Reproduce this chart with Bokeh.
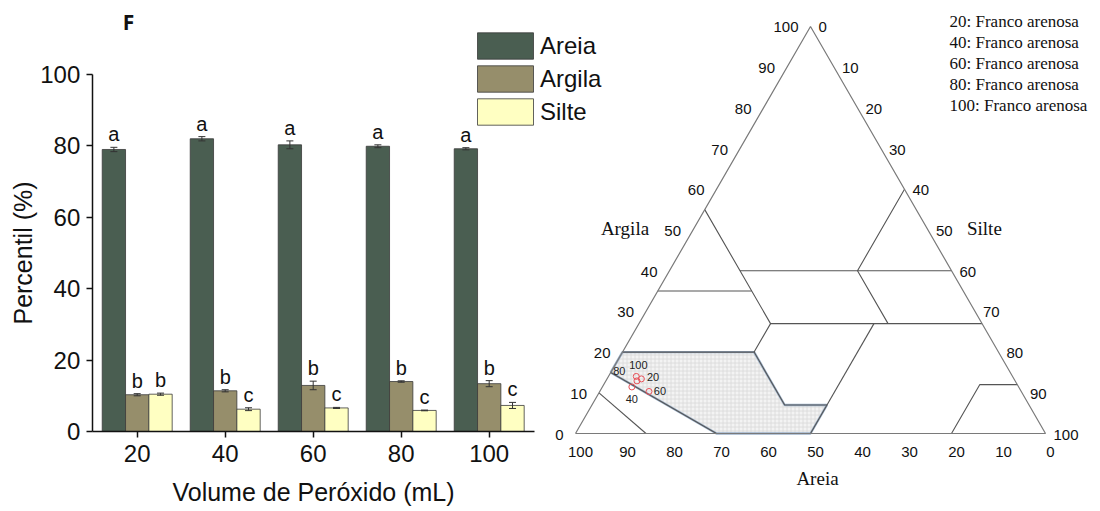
import numpy as np
from bokeh.plotting import figure
from bokeh.models import (ColumnDataSource, Whisker, TeeHead, Legend, LegendItem,
                          FixedTicker, Range1d, Label, LinearAxis)
from bokeh.core.properties import value
from bokeh.embed import file_html
from bokeh.resources import INLINE

# ---------------- data: bar chart ----------------
volumes = ["20", "40", "60", "80", "100"]
areia = [79.0, 82.0, 80.3, 79.9, 79.2]
areia_err = [0.6, 0.6, 1.1, 0.4, 0.3]
argila = [10.3, 11.4, 12.9, 14.0, 13.4]
argila_err = [0.3, 0.3, 1.2, 0.2, 0.85]
silte = [10.45, 6.25, 6.6, 5.9, 7.3]
silte_err = [0.3, 0.4, 0.15, 0.1, 0.85]
areia_letters = ["a", "a", "a", "a", "a"]
argila_letters = ["b", "b", "b", "b", "b"]
silte_letters = ["b", "c", "c", "c", "c"]
series_names = ["Areia", "Argila", "Silte"]
series_colors = ["#4a5e51", "#968e6b", "#ffffc2"]
y_ticks = [0, 20, 40, 60, 80, 100]
panel_letter = "F"
x_title = "Volume de Peróxido (mL)"
y_title = "Percentil (%)"

# ---------------- data: ternary (USDA texture triangle) ----------------
tern_ticks = [0, 10, 20, 30, 40, 50, 60, 70, 80, 90, 100]
# polylines as (areia, argila) percentages
triangle_outline = [(100, 0), (0, 100), (0, 0), (100, 0)]
usda_lines = [
    [(90, 10), (85, 0)],
    [(85, 15), (70, 0)],
    [(80, 20), (52, 20), (52, 7), (43, 7)],
    [(23, 27), (50, 0)],
    [(65, 35), (45, 35)],
    [(45, 55), (45, 27), (52, 20)],
    [(45, 27), (0, 27)],
    [(45, 40), (0, 40)],
    [(0, 60), (20, 40), (20, 27)],
    [(0, 12), (8, 12), (20, 0)],
]
franco_arenosa = [(80, 20), (52, 20), (52, 7), (43, 7), (50, 0), (70, 0), (85, 15)]
class_notes = ["20: Franco arenosa", "40: Franco arenosa", "60: Franco arenosa",
               "80: Franco arenosa", "100: Franco arenosa"]
axis_names = ["Argila", "Silte", "Areia"]

SANS = value("Liberation Sans")
SERIF = value("Liberation Serif")
INK = "#111111"

# one canvas; bar chart on the default ranges, ternary on extra ranges
p = figure(width=1096, height=509,
           x_range=Range1d(-1.5534, 10.9011), y_range=Range1d(-21.849, 120.728),
           x_axis_location=None, y_axis_location=None, min_border=0,
           output_backend="svg", toolbar_location=None)
p.extra_x_ranges = {"tx": Range1d(-122.340, 110.851)}
p.extra_y_ranges = {"ty": Range1d(-16.170, 92.128)}
p.grid.visible = False
p.outline_line_color = None

# =============== bar chart ===============
xs = np.arange(len(volumes), dtype=float)
bw = 0.265
series = [(areia, areia_err, areia_letters), (argila, argila_err, argila_letters),
          (silte, silte_err, silte_letters)]
renderers = []
for k, (vals, errs, letters) in enumerate(series):
    xk = xs + (k - 1) * bw
    v = np.array(vals)
    e = np.array(errs)
    src = ColumnDataSource(dict(x=xk, top=v, up=v + e, lo=v - e, letters=letters))
    r = p.vbar(x="x", top="top", width=bw, bottom=0, source=src,
               fill_color=series_colors[k], line_color="#3a3a3a", line_width=0.8)
    renderers.append(r)
    wh = Whisker(base="x", upper="up", lower="lo", source=src, level="overlay",
                 line_color="#333333", line_width=1,
                 upper_head=TeeHead(size=7, line_color="#333333", line_width=1),
                 lower_head=TeeHead(size=7, line_color="#333333", line_width=1))
    p.add_layout(wh)
    p.text(x="x", y="up", text="letters", source=src, text_align="center",
           text_baseline="middle", y_offset=-13, text_font=SANS,
           text_font_size="20px", text_color=INK)

yax = LinearAxis(fixed_location=-0.51, bounds=(0, 100), ticker=FixedTicker(ticks=y_ticks),
                 axis_label=y_title)
xax = LinearAxis(fixed_location=0, bounds=(-0.51, 4.51), ticker=FixedTicker(ticks=list(xs)),
                 axis_label=x_title)
xax.major_label_overrides = {float(i): v for i, v in enumerate(volumes)}
for ax in (xax, yax):
    ax.axis_line_width = 1.5
    ax.axis_line_color = INK
    ax.major_tick_line_width = 1.5
    ax.major_tick_line_color = INK
    ax.major_tick_out = 6
    ax.major_tick_in = 0
    ax.minor_tick_out = 0
    ax.minor_tick_in = 0
    ax.major_label_text_font = "Liberation Sans"
    ax.major_label_text_font_size = "24px"
    ax.major_label_text_color = INK
    ax.axis_label_text_font = "Liberation Sans"
    ax.axis_label_text_font_size = "25px"
    ax.axis_label_text_font_style = "normal"
    ax.axis_label_text_color = INK
xax.major_label_standoff = 8
xax.axis_label_standoff = 12
yax.major_label_standoff = 6
yax.axis_label_standoff = 0
p.add_layout(yax, "left")
p.add_layout(xax, "below")

legend = Legend(items=[LegendItem(label=series_names[k], renderers=[renderers[k]]) for k in range(3)],
                location=(470, 381), glyph_width=70, glyph_height=33, spacing=0,
                padding=0, margin=0, label_standoff=0, label_height=28,
                label_text_font="Liberation Sans", label_text_font_size="24px",
                label_text_color=INK, border_line_color=None, background_fill_alpha=0)
p.add_layout(legend)

p.add_layout(Label(x=-0.099, y=114.57, text=panel_letter, text_font="Noto Sans",
                   text_font_style="bold", text_font_size="21px", text_align="center",
                   text_baseline="middle", text_color=INK))

# =============== ternary diagram ===============
S3 = np.sqrt(3) / 2
T = dict(x_range_name="tx", y_range_name="ty")


def tern(sand, clay):
    sand = np.asarray(sand, dtype=float)
    clay = np.asarray(clay, dtype=float)
    silt = 100.0 - sand - clay
    return silt + clay / 2.0, clay * S3


# shaded sandy-loam region
fa = np.array(franco_arenosa)
fx, fy = tern(fa[:, 0], fa[:, 1])
p.patch(list(fx), list(fy), fill_color="#f3f3f3", hatch_pattern="cross",
        hatch_color="#d8d8d8", hatch_scale=4, hatch_weight=0.8,
        line_color="#9db3cc", line_width=2.4, **T)

# class boundaries
mx, my = [], []
for ln in usda_lines:
    a = np.array(ln)
    lx, ly = tern(a[:, 0], a[:, 1])
    mx.append(list(lx))
    my.append(list(ly))
p.multi_line(mx, my, line_color="#555555", line_width=1.1, **T)

to = np.array(triangle_outline)
tx, ty = tern(to[:, 0], to[:, 1])
p.line(list(tx), list(ty), line_color="#7a7a7a", line_width=1.2, **T)

# tick labels
tk = np.array(tern_ticks, dtype=float)
labels = [str(t) for t in tern_ticks]
lx, ly = tern(100 - tk, tk)
p.text(lx, ly, text=labels, text_align="right", text_baseline="middle",
       x_offset=-12, y_offset=1, text_font=SANS, text_font_size="15px", text_color=INK, **T)
rx, ry = tern(np.zeros_like(tk), 100 - tk)
p.text(rx, ry, text=labels, text_align="left", text_baseline="middle",
       x_offset=8, y_offset=1, text_font=SANS, text_font_size="15px", text_color=INK, **T)
bx, by = tern(tk, np.zeros_like(tk))
p.text(bx, by, text=labels, text_align="center", text_baseline="middle",
       x_offset=5, y_offset=18, text_font=SANS, text_font_size="15px", text_color=INK, **T)

# axis names
ax_, ay_ = tern([50], [50])
p.text(ax_, ay_, text=[axis_names[0]], text_align="center", text_baseline="middle",
       x_offset=-68, y_offset=-1, text_font=SERIF, text_font_size="19px", text_color=INK, **T)
sx_, sy_ = tern([0], [50])
p.text(sx_, sy_, text=[axis_names[1]], text_align="left", text_baseline="middle",
       x_offset=39, y_offset=-1, text_font=SERIF, text_font_size="19px", text_color=INK, **T)
bx_, by_ = tern([50], [0])
p.text(bx_, by_, text=[axis_names[2]], text_align="center", text_baseline="middle",
       x_offset=7, y_offset=45, text_font=SERIF, text_font_size="19px", text_color=INK, **T)

# class notes (top right)
apx, apy = tern([0] * len(class_notes), [100] * len(class_notes))
p.text(apx, apy, text=class_notes, text_align="left", text_baseline="middle",
       x_offset=139, y_offset=[-5.3 + 21 * i for i in range(len(class_notes))],
       text_font=SERIF, text_font_size="17px", text_color=INK, **T)

# samples
tot = np.array(areia) + np.array(argila) + np.array(silte)
clay_n = np.array(argila) / tot * 100
silt_n = np.array(silte) / tot * 100
px = silt_n + clay_n / 2
py = clay_n * S3
p.scatter(px, py, marker="circle", size=6, fill_color=None, line_color="#e8525a",
          line_width=1, **T)
lab_dx = {"20": 4, "40": 0, "60": 23, "80": -17, "100": -3}
lab_dy = {"20": -14, "40": 12.5, "60": 10, "80": -5, "100": -13.5}
p.text(px, py, text=volumes, text_align="center", text_baseline="middle",
       x_offset=[lab_dx[v] for v in volumes], y_offset=[lab_dy[v] for v in volumes],
       text_font=SANS, text_font_size="11px", text_color="#222222", **T)

open("out.html", "w").write(file_html(p, INLINE))
